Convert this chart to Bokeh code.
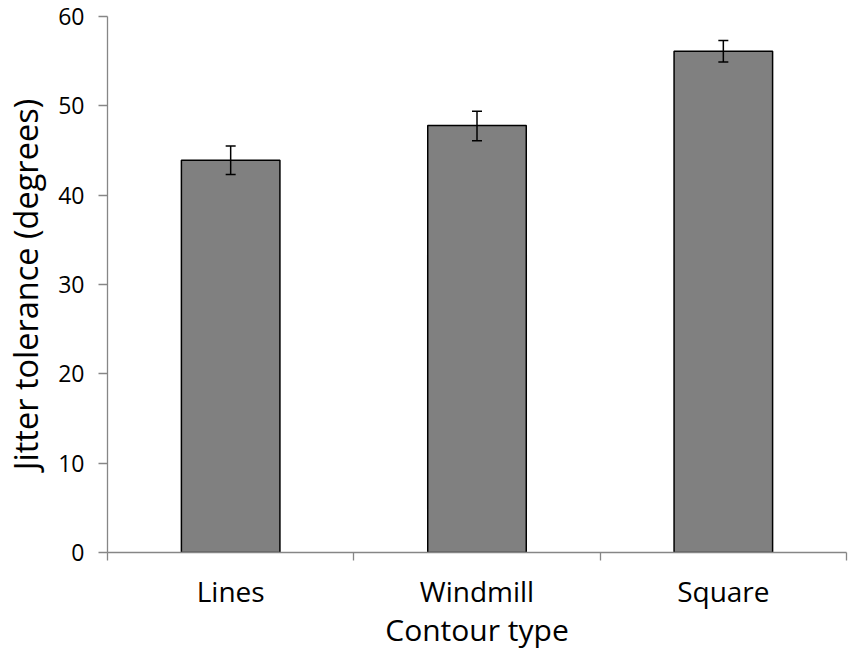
from bokeh.plotting import figure
from bokeh.models import ColumnDataSource, FixedTicker, Range1d, Whisker, TeeHead
from bokeh.embed import file_html
from bokeh.resources import INLINE

categories = ["Lines", "Windmill", "Square"]
means = [43.9, 47.8, 56.1]
err_lower = [42.3, 46.1, 54.9]
err_upper = [45.5, 49.4, 57.3]
y_ticks = [0, 10, 20, 30, 40, 50, 60]

FONT = "Open Sans"
AXIS_GRAY = "#868686"

xs = [i + 0.5 for i in range(len(categories))]
src = ColumnDataSource(dict(x=xs, cat=categories, mean=means, lo=err_lower, hi=err_upper))

p = figure(width=850, height=652, output_backend="svg", toolbar_location=None,
           x_range=Range1d(0, len(categories)), y_range=Range1d(0, 60),
           min_border_left=107, min_border_right=4, min_border_top=16, min_border_bottom=92)
p.outline_line_color = None
p.grid.visible = False
p.background_fill_color = "white"
p.border_fill_color = "white"

p.vbar(x="x", top="mean", bottom=0, width=0.4, source=src,
       fill_color="#808080", line_color="black", line_width=1.5)

whisk = Whisker(base="x", upper="hi", lower="lo", source=src, level="overlay",
                line_color="black", line_width=1.5,
                upper_head=TeeHead(size=10, line_color="black", line_width=1.5),
                lower_head=TeeHead(size=10, line_color="black", line_width=1.5))
p.add_layout(whisk)

# x axis: labels at centers, tick marks at category boundaries
xa = p.xaxis[0]
xa.ticker = FixedTicker(ticks=xs, minor_ticks=list(range(len(categories) + 1)))
xa.major_label_overrides = {x: c for x, c in zip(xs, categories)}
xa.major_tick_out = 0
xa.major_tick_in = 0
xa.minor_tick_out = 8
xa.minor_tick_in = 0
xa.minor_tick_line_color = AXIS_GRAY
xa.minor_tick_line_width = 1.3
xa.axis_line_color = AXIS_GRAY
xa.axis_line_width = 1.3
xa.major_label_text_font = FONT
xa.major_label_text_font_size = "28px"
xa.major_label_text_color = "black"
xa.major_label_standoff = 11
xa.axis_label = "Contour type"
xa.axis_label_text_font = FONT
xa.axis_label_text_font_size = "30px"
xa.axis_label_text_font_style = "normal"
xa.axis_label_text_color = "black"
xa.axis_label_standoff = -4

ya = p.yaxis[0]
ya.ticker = FixedTicker(ticks=y_ticks, minor_ticks=[])
ya.major_tick_out = 9
ya.major_tick_in = 0
ya.major_tick_line_color = AXIS_GRAY
ya.major_tick_line_width = 1.3
ya.minor_tick_line_color = None
ya.axis_line_color = AXIS_GRAY
ya.axis_line_width = 1.3
ya.major_label_text_font = FONT
ya.major_label_text_font_size = "23px"
ya.major_label_text_color = "black"
ya.major_label_standoff = 14
ya.axis_label = "Jitter tolerance (degrees)"
ya.axis_label_text_font = FONT
ya.axis_label_text_font_size = "32.5px"
ya.axis_label_text_font_style = "normal"
ya.axis_label_text_color = "black"
ya.axis_label_standoff = 7

open("out.html", "w").write(file_html(p, INLINE))
